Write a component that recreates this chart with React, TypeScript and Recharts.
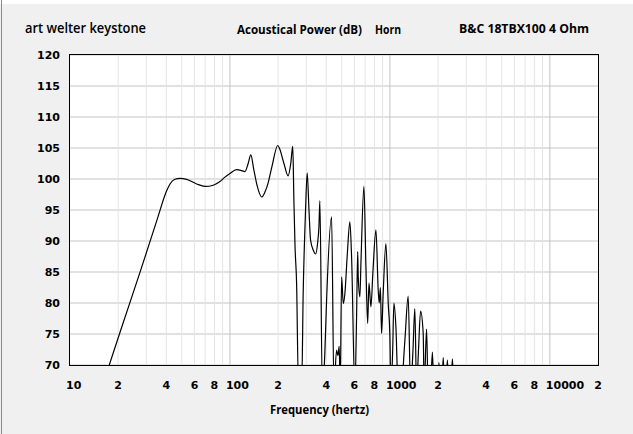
import React from 'react';
import { LineChart, Line, XAxis, YAxis, CartesianGrid, ReferenceLine } from 'recharts';

const freqHz = [
  17.6, 20.5, 28, 35, 40.2, 42.2, 45.3, 48.7, 53.6, 61.9, 69.8, 78.6, 86.6, 93, 100, 110, 117, 124, 130, 135,
  141, 147.6, 158, 165.5, 173, 183, 199, 205, 217.5, 231, 240, 247, 251, 255, 261, 268,
  281, 287, 297, 304, 312, 319, 332, 343, 353, 360, 365, 378, 392, 402, 432, 447,
  464, 473, 482, 489, 499, 511, 523, 542, 562, 576, 604, 619, 629, 634, 649, 659, 688,
  708, 726, 740, 761, 783, 818, 845, 858, 872, 887, 908, 944, 976, 1000, 1014,
  1040, 1059, 1090, 1127, 1172, 1241, 1301, 1347, 1392, 1432, 1468, 1507, 1556, 1615, 1638,
  1695, 1735, 1791, 1844, 1884, 1995, 2025, 2070, 2113, 2154, 2201, 2239, 2287, 2339, 2405,
  2459, 2512, 2600,
];

const powerDb = [
  70, 75.2, 85.7, 93.4, 98.1, 99.2, 99.95, 100.1, 99.95, 99.2, 98.8, 99.0, 99.6, 100.3, 100.9, 101.5, 101.4, 101.2, 102.5, 103.9,
  101.5, 99, 97.1, 97.9, 99.3, 102, 105.4, 104.8, 102.5, 100.5, 102.5, 105.3, 96.6, 89.4, 83.2, 67,
  67, 81.6, 95, 101, 95, 90.2, 88.5, 87.9, 89.6, 92.3, 96.5, 66, 72, 80.5, 93.9, 66,
  72.4, 71.5, 73, 66, 84.2, 79.9, 81.5, 88, 93.1, 87.5, 66, 77.8, 88.3, 84.2, 81, 86.4, 98.8,
  86, 76.7, 83.2, 79.4, 85, 91.8, 82.1, 80, 82.5, 75.1, 81.6, 89.6, 80, 74.6, 66,
  72, 80, 76.2, 66, 66, 74, 81.1, 66, 72, 79.1, 66, 72, 78.7, 75.1, 66,
  75.8, 66, 66, 72.1, 66, 66, 70.4, 66, 66, 71.2, 66, 66, 70.8, 66, 66,
  71, 66, 66,
];

const yTicks = [70, 75, 80, 85, 90, 95, 100, 105, 110, 115, 120];
const xTicks = [10, 20, 40, 60, 80, 100, 200, 400, 600, 800, 1000, 2000, 4000, 6000, 8000, 10000, 20000];
const decadeTicks = [10, 100, 1000, 10000];
const minorGrid = [
  20, 30, 40, 50, 60, 70, 80, 90,
  200, 300, 400, 500, 600, 700, 800, 900,
  2000, 3000, 4000, 5000, 6000, 7000, 8000, 9000,
];
const majorGrid = [100, 1000, 10000];

const data = freqHz.map((f, i) => ({ f, db: powerDb[i] }));

const tickFont = '"DejaVu Sans", Verdana, sans-serif';
const titleFont = '"Open Sans", "Noto Sans", sans-serif';

const XTick = (props: any) => {
  const { x, y, payload } = props;
  const v = payload.value as number;
  const isDecade = decadeTicks.includes(v);
  const label = isDecade ? String(v) : String(v).charAt(0);
  return (
    <text
      x={isDecade ? x - 4 : x}
      y={y + 20}
      textAnchor={isDecade ? 'start' : 'middle'}
      dominantBaseline="central"
      fontFamily={tickFont}
      fontSize={11}
      fontWeight="bold"
      fill="#000"
    >
      {label}
    </text>
  );
};

export default function App() {
  return (
    <div style={{ position: 'absolute', left: 0, top: 0, width: 633, height: 434, background: '#f0f0f0', overflow: 'hidden' }}>
      <div style={{ position: 'absolute', left: 0, top: 0, width: 633, height: 4, background: '#ffffff' }} />
      <div style={{ position: 'absolute', left: 1, top: 0, width: 1, height: 434, background: '#8a8a8a' }} />
      <LineChart
        width={633}
        height={434}
        data={data}
        margin={{ top: 55, right: 35, bottom: 39, left: 10 }}
      >
        <CartesianGrid vertical={false} stroke="#c4c4c4" fill="#ffffff" />
        {minorGrid.map((g) => (
          <ReferenceLine key={'m' + g} x={g} stroke="#e4e4e4" strokeWidth={1} />
        ))}
        {majorGrid.map((g) => (
          <ReferenceLine key={'M' + g} x={g} stroke="#c4c4c4" strokeWidth={1} />
        ))}
        <XAxis
          dataKey="f"
          type="number"
          scale="log"
          domain={[10, 20000]}
          allowDataOverflow
          ticks={xTicks}
          interval={0}
          tickLine={false}
          axisLine={false}
          tickSize={0}
          tickMargin={0}
          height={30}
          tick={<XTick />}
        />
        <YAxis
          type="number"
          domain={[70, 120]}
          allowDataOverflow
          ticks={yTicks}
          interval={0}
          width={60}
          tickLine={false}
          axisLine={false}
          tickSize={6}
          tickMargin={4}
          tick={{ fill: '#000', fontSize: 11, fontWeight: 'bold', fontFamily: tickFont }}
        />
        <Line
          type="monotone"
          dataKey="db"
          stroke="#000"
          strokeWidth={1.2}
          dot={false}
          isAnimationActive={false}
        />
      </LineChart>
      <svg
        width={633}
        height={434}
        style={{ position: 'absolute', left: 0, top: 0, pointerEvents: 'none' }}
      >
        <rect x={69.5} y={54.5} width={529} height={311} fill="none" stroke="#000" strokeWidth={1} />
        <text x={25} y={33} fontFamily={titleFont} fontSize={14} fontWeight={600} fill="#000" textLength={121} lengthAdjust="spacingAndGlyphs">art welter keystone</text>
        <text x={237} y={34} fontFamily={titleFont} fontSize={12} fontWeight={700} fill="#000" textLength={125} lengthAdjust="spacingAndGlyphs">Acoustical Power (dB)</text>
        <text x={375} y={34} fontFamily={titleFont} fontSize={12} fontWeight={700} fill="#000" textLength={26} lengthAdjust="spacingAndGlyphs">Horn</text>
        <text x={459} y={33} fontFamily={titleFont} fontSize={12} fontWeight={700} fill="#000" textLength={130} lengthAdjust="spacingAndGlyphs">B&amp;C 18TBX100 4 Ohm</text>
        <text x={270} y={414} fontFamily={titleFont} fontSize={12} fontWeight={700} fill="#000" textLength={99} lengthAdjust="spacingAndGlyphs">Frequency (hertz)</text>
      </svg>
    </div>
  );
}
